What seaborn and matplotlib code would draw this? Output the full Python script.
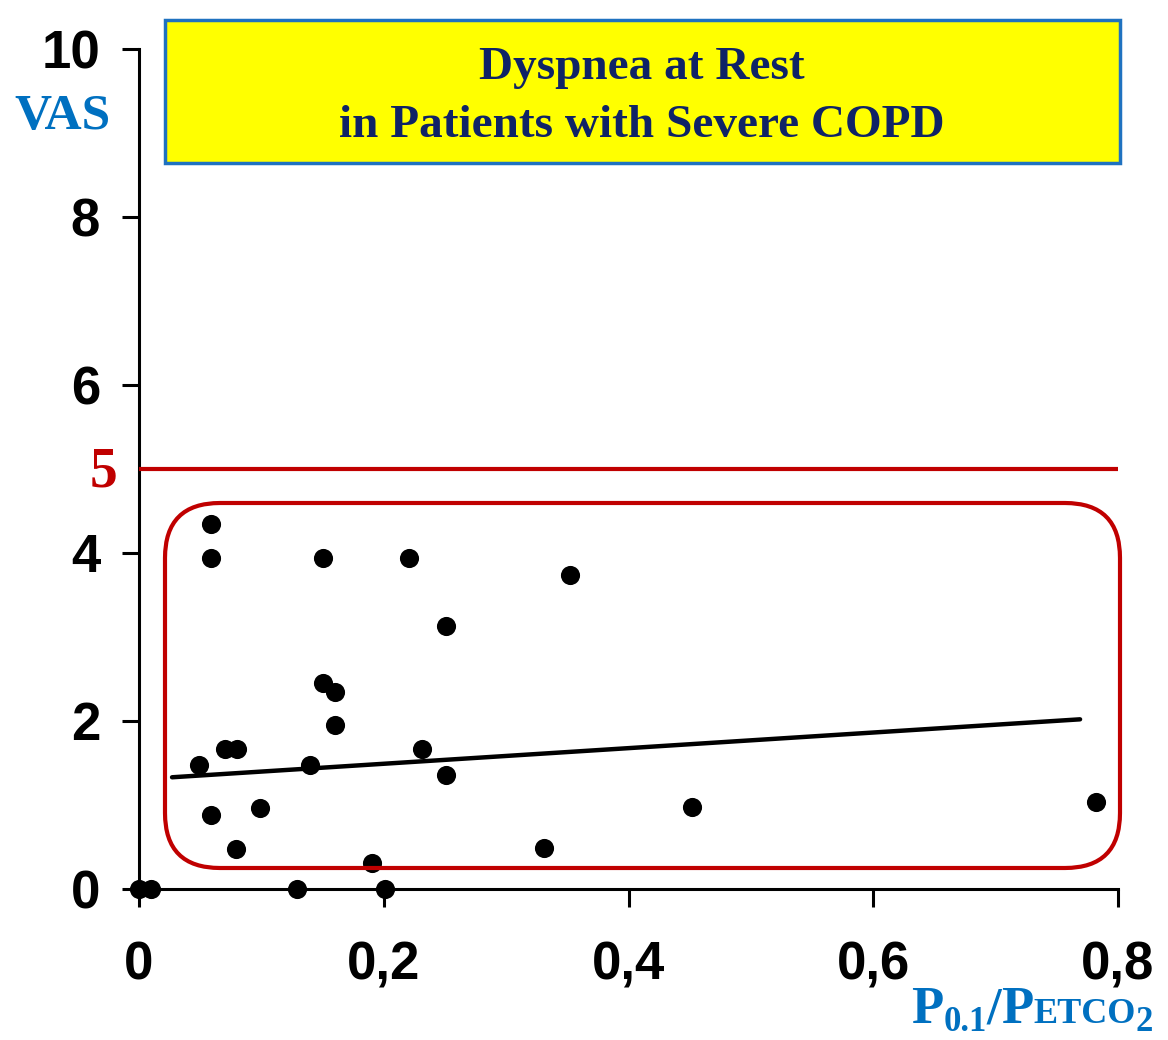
import numpy as np
import pandas as pd
import matplotlib
matplotlib.use('Agg')
import matplotlib.pyplot as plt
import seaborn as sns
from matplotlib.patches import FancyBboxPatch, Rectangle

# ---- data ----
ratio = [0.000, 0.010, 0.049, 0.059, 0.059, 0.059, 0.070, 0.080, 0.079, 0.099,
         0.129, 0.140, 0.150, 0.150, 0.160, 0.160, 0.190, 0.201, 0.221, 0.231,
         0.251, 0.251, 0.331, 0.352, 0.452, 0.782]
vas = [0.00, 0.00, 1.48, 4.35, 3.94, 0.88, 1.67, 1.67, 0.48, 0.96,
       0.00, 1.48, 3.94, 2.45, 2.35, 1.95, 0.31, 0.00, 3.94, 1.67,
       3.13, 1.36, 0.49, 3.74, 0.98, 1.04]
fit_x = [0.027, 0.769]
fit_y = [1.33, 2.02]
threshold = 5
x_ticks = [0.0, 0.2, 0.4, 0.6, 0.8]
x_tick_labels = ['0', '0,2', '0,4', '0,6', '0,8']
y_ticks = [0, 2, 4, 6, 8, 10]
y_tick_labels = ['0', '2', '4', '6', '8', '10']
title_lines = ['Dyspnea at Rest', 'in Patients with Severe COPD']

df = pd.DataFrame({'ratio': ratio, 'vas': vas})
fit = pd.DataFrame({'x': fit_x, 'y': fit_y})

sns.set_theme(style='white')
plt.rcParams['font.family'] = ['Liberation Sans', 'DejaVu Sans']

W, H = 1168, 1040
fig = plt.figure(figsize=(W / 100, H / 100), dpi=100)
fig.patch.set_facecolor('white')

ax = fig.add_axes([139 / W, 1 - 889 / H, (1118 - 139) / W, (889 - 49) / H])
ax.set_facecolor('none')

sns.scatterplot(data=df, x='ratio', y='vas', ax=ax, color='black', s=190,
                edgecolor='black', linewidth=0, clip_on=False, zorder=5)
sns.lineplot(data=fit, x='x', y='y', ax=ax, color='black', linewidth=3.2, zorder=4)
ax.axhline(threshold, color='#C00000', linewidth=3, zorder=3)

ax.set_xlim(0, 0.8)
ax.set_ylim(0, 10)
ax.set_xticks(x_ticks)
ax.set_xticklabels(x_tick_labels)
ax.set_yticks(y_ticks)
ax.set_yticklabels(y_tick_labels)
ax.set_xlabel('')
ax.set_ylabel('')
for s in ['top', 'right']:
    ax.spines[s].set_visible(False)
for s in ['left', 'bottom']:
    ax.spines[s].set_color('black')
    ax.spines[s].set_linewidth(2.2)
ax.tick_params(axis='both', which='major', direction='out', color='black',
               width=2.2, labelsize=38, labelcolor='black')
ax.tick_params(axis='x', length=13, pad=24, bottom=True)
ax.tick_params(axis='y', length=12, pad=16, left=True)
for lab in ax.get_xticklabels() + ax.get_yticklabels():
    lab.set_fontweight('bold')
    lab.set_family(['Liberation Sans', 'DejaVu Sans'])

# Title box (pixel-based via inches transform)
tr = fig.dpi_scale_trans
box = Rectangle((165 / 100, (H - 163) / 100), (1120 - 165) / 100, (163 - 20) / 100,
                transform=tr, facecolor='#FFFF00', edgecolor='#1F72C0',
                linewidth=2.5, zorder=1)
fig.patches.append(box)
serif = ['Liberation Serif', 'DejaVu Serif']
fig.text(642 / W, 1 - 68 / H, title_lines[0], ha='center', va='center',
         fontsize=34, fontweight='bold', color='#0F2366', family=serif)
fig.text(642 / W, 1 - 126 / H, title_lines[1], ha='center', va='center',
         fontsize=34, fontweight='bold', color='#0F2366', family=serif)

# rounded red frame
frame = FancyBboxPatch((165 / 100, (H - 868) / 100), (1120 - 165) / 100, (868 - 503) / 100,
                       boxstyle='round,pad=0,rounding_size=0.55', transform=tr,
                       facecolor='none', edgecolor='#C00000', linewidth=3, zorder=2)
fig.patches.append(frame)

# labels
fig.text(62 / W, 1 - 117 / H, 'VAS', ha='center', va='center', fontsize=37,
         fontweight='bold', color='#0070C0', family=serif)
fig.text(103 / W, 1 - 473 / H, str(threshold), ha='center', va='center', fontsize=40,
         fontweight='bold', color='#C00000', family=serif)

# x label: P0.1/PETCO2 built from pieces
renderer = fig.canvas.get_renderer()
pieces = [('P', 38, 0), ('0.1', 25, -8), ('/', 38, 0), ('P', 38, 0),
          ('ETCO', 26, 0), ('2', 25, -8)]
xpos = 911
base = H - 1023
for txt, size, dy in pieces:
    t = fig.text(xpos / W, (base + dy) / H, txt, ha='left', va='baseline',
                 fontsize=size, fontweight='bold', color='#0070C0', family=serif)
    bb = t.get_window_extent(renderer=renderer)
    xpos += bb.width

fig.savefig('out.png', dpi=100, facecolor='white')
